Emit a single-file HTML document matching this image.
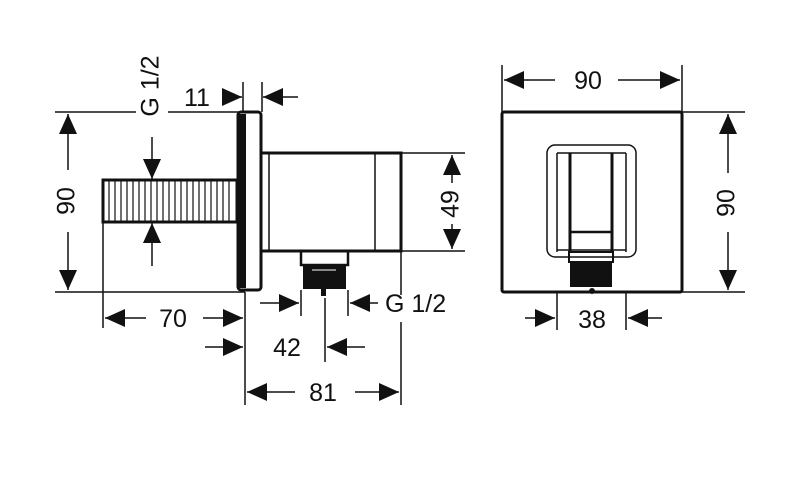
<!DOCTYPE html>
<html><head><meta charset="utf-8"><style>
html,body{margin:0;padding:0;background:#fff;}
svg{display:block;}
text{font-family:"Liberation Sans",sans-serif;font-size:25px;fill:#111;}
</style></head><body>
<svg width="800" height="482" viewBox="0 0 800 482" xmlns="http://www.w3.org/2000/svg">
<defs>
<marker id="a" viewBox="0 0 10 10" refX="10" refY="5" markerWidth="20" markerHeight="18" markerUnits="userSpaceOnUse" orient="auto" preserveAspectRatio="none"><path d="M0,0L10,5L0,10z" fill="#111"/></marker>
</defs>
<g stroke="#111" stroke-width="1.5" fill="none">
<line x1="55" y1="112" x2="136" y2="112"/><line x1="168" y1="112" x2="243" y2="112"/>
<line x1="55" y1="292" x2="245" y2="292"/>
<line x1="68" y1="170" x2="68" y2="114" marker-end="url(#a)"/>
<line x1="68" y1="232" x2="68" y2="290" marker-end="url(#a)"/>
<line x1="243" y1="82" x2="243" y2="112"/><line x1="262" y1="82" x2="262" y2="112"/>
<line x1="222" y1="97" x2="242" y2="97" marker-end="url(#a)"/>
<line x1="298" y1="97" x2="263" y2="97" marker-end="url(#a)"/>
<line x1="152" y1="137" x2="152" y2="179" marker-end="url(#a)"/>
<line x1="152" y1="266" x2="152" y2="223" marker-end="url(#a)"/>
<line x1="401" y1="153" x2="465" y2="153"/><line x1="401" y1="251" x2="465" y2="251"/>
<line x1="452" y1="183" x2="452" y2="155" marker-end="url(#a)"/>
<line x1="452" y1="224" x2="452" y2="249" marker-end="url(#a)"/>
<line x1="103" y1="222" x2="103" y2="328"/>
<line x1="245" y1="292" x2="245" y2="405"/>
<line x1="401" y1="251" x2="401" y2="295"/><line x1="401" y1="322" x2="401" y2="405"/>
<line x1="146" y1="318" x2="105" y2="318" marker-end="url(#a)"/>
<line x1="203" y1="318" x2="243" y2="318" marker-end="url(#a)"/>
<line x1="301" y1="290" x2="301" y2="316"/><line x1="348" y1="290" x2="348" y2="316"/>
<line x1="260" y1="303" x2="299" y2="303" marker-end="url(#a)"/>
<line x1="378" y1="303" x2="350" y2="303" marker-end="url(#a)"/>
<line x1="205" y1="347" x2="243" y2="347" marker-end="url(#a)"/>
<line x1="325" y1="298" x2="325" y2="362"/>
<line x1="365" y1="347" x2="327" y2="347" marker-end="url(#a)"/>
<line x1="295" y1="392" x2="247" y2="392" marker-end="url(#a)"/>
<line x1="355" y1="392" x2="399" y2="392" marker-end="url(#a)"/>
</g>
<g stroke="#111" fill="none">
<rect x="103" y="180" width="134" height="42" stroke-width="3"/>
<g stroke-width="1.2">
<line x1="109" y1="181" x2="109" y2="221"/><line x1="115" y1="181" x2="115" y2="221"/><line x1="121" y1="181" x2="121" y2="221"/><line x1="127" y1="181" x2="127" y2="221"/><line x1="133" y1="181" x2="133" y2="221"/><line x1="139" y1="181" x2="139" y2="221"/><line x1="145" y1="181" x2="145" y2="221"/><line x1="151" y1="181" x2="151" y2="221"/><line x1="157" y1="181" x2="157" y2="221"/><line x1="163" y1="181" x2="163" y2="221"/><line x1="169" y1="181" x2="169" y2="221"/><line x1="175" y1="181" x2="175" y2="221"/><line x1="181" y1="181" x2="181" y2="221"/><line x1="187" y1="181" x2="187" y2="221"/><line x1="193" y1="181" x2="193" y2="221"/><line x1="199" y1="181" x2="199" y2="221"/><line x1="205" y1="181" x2="205" y2="221"/><line x1="211" y1="181" x2="211" y2="221"/><line x1="217" y1="181" x2="217" y2="221"/><line x1="223" y1="181" x2="223" y2="221"/><line x1="229" y1="181" x2="229" y2="221"/>
</g>
<rect x="238" y="112" width="23" height="178" rx="3" stroke-width="3"/>
<rect x="238" y="114" width="8" height="174" fill="#111" stroke="none"/>
<path d="M262 153H401V251H262" stroke-width="3"/>
<line x1="269" y1="153" x2="269" y2="251" stroke-width="1.5"/>
<line x1="375" y1="153" x2="375" y2="251" stroke-width="1.5"/>
<rect x="301" y="251" width="47" height="14" stroke-width="2.5"/>
<rect x="303" y="265" width="43" height="24" fill="#111" stroke="none"/>
<line x1="312" y1="270" x2="336" y2="270" stroke="#fff" stroke-width="1"/>
<rect x="321" y="289" width="5" height="7" fill="#111" stroke="none"/>
</g>
<g stroke="#111" fill="none">
<g stroke-width="1.5">
<line x1="502" y1="65" x2="502" y2="112"/><line x1="682" y1="65" x2="682" y2="112"/>
<line x1="555" y1="80" x2="504" y2="80" marker-end="url(#a)"/>
<line x1="618" y1="80" x2="680" y2="80" marker-end="url(#a)"/>
<line x1="682" y1="112" x2="745" y2="112"/><line x1="682" y1="292" x2="745" y2="292"/>
<line x1="728" y1="173" x2="728" y2="114" marker-end="url(#a)"/>
<line x1="728" y1="232" x2="728" y2="290" marker-end="url(#a)"/>
<line x1="557" y1="293" x2="557" y2="330"/><line x1="626" y1="293" x2="626" y2="330"/>
<line x1="525" y1="318" x2="555" y2="318" marker-end="url(#a)"/>
<line x1="662" y1="318" x2="628" y2="318" marker-end="url(#a)"/>
</g>
<rect x="502" y="112" width="180" height="180" rx="2" stroke-width="3"/>
<rect x="547" y="145" width="89" height="112" rx="8" stroke-width="1.5"/>
<line x1="557" y1="153" x2="557" y2="252" stroke-width="1.5"/>
<line x1="626" y1="153" x2="626" y2="252" stroke-width="1.5"/>
<line x1="557" y1="153" x2="626" y2="153" stroke-width="1.5"/>
<line x1="557" y1="250" x2="626" y2="250" stroke-width="1.5"/>
<line x1="570" y1="153" x2="570" y2="252" stroke-width="3"/>
<line x1="612" y1="153" x2="612" y2="252" stroke-width="3"/>
<line x1="570" y1="232" x2="612" y2="232" stroke-width="2.5"/>
<rect x="569" y="252" width="44" height="10" stroke-width="2"/>
<rect x="570" y="262" width="42" height="25" fill="#111" stroke="none"/>
<circle cx="592" cy="291" r="3" fill="#111" stroke="none"/>
</g>
<text x="152" y="86" text-anchor="middle" dominant-baseline="middle" transform="rotate(-90 152 86)">G 1/2</text>
<text x="68" y="201" text-anchor="middle" dominant-baseline="middle" transform="rotate(-90 68 201)">90</text>
<text x="452" y="204" text-anchor="middle" dominant-baseline="middle" transform="rotate(-90 452 204)">49</text>
<text x="728" y="203" text-anchor="middle" dominant-baseline="middle" transform="rotate(-90 728 203)">90</text>
<text x="184" y="106">11</text>
<text x="173" y="327" text-anchor="middle">70</text>
<text x="287" y="356" text-anchor="middle">42</text>
<text x="323" y="401" text-anchor="middle">81</text>
<text x="385" y="312">G 1/2</text>
<text x="588" y="89" text-anchor="middle">90</text>
<text x="592" y="328" text-anchor="middle">38</text>
</svg>
</body></html>
